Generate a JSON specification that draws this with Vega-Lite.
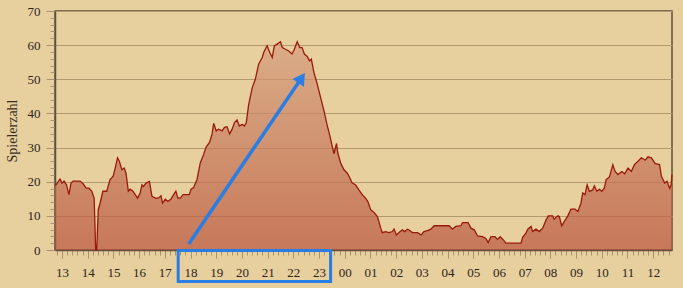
{
  "$schema": "https://vega.github.io/schema/vega-lite/v6.json",
  "width": 617,
  "height": 239,
  "autosize": {"type": "none"},
  "padding": {"left": 55, "top": 11, "right": 11, "bottom": 38},
  "background": "#e7cf9e",
  "config": {
    "view": {"stroke": "#5e5040", "strokeWidth": 1.5},
    "axis": {
      "labelFont": "Liberation Serif",
      "labelFontSize": 13,
      "labelColor": "#2e241a",
      "titleFont": "Liberation Serif",
      "titleFontSize": 14,
      "titleFontWeight": "normal",
      "titleColor": "#3a2e22",
      "domainColor": "#5e5040",
      "domainWidth": 1.5,
      "tickColor": "#a99270",
      "labelOverlap": false,
      "labelFlush": false
    }
  },
  "encoding": {
    "x": {
      "field": "h", "type": "quantitative",
      "scale": {"domain": [12.727, 36.733], "nice": false, "zero": false},
      "axis": {
        "title": null,
        "grid": false,
        "values": [12.8,13,13.2,13.4,13.6,13.8,14,14.2,14.4,14.6,14.8,15,15.2,15.4,15.6,15.8,16,16.2,16.4,16.6,16.8,17,17.2,17.4,17.6,17.8,18,18.2,18.4,18.6,18.8,19,19.2,19.4,19.6,19.8,20,20.2,20.4,20.6,20.8,21,21.2,21.4,21.6,21.8,22,22.2,22.4,22.6,22.8,23,23.2,23.4,23.6,23.8,24,24.2,24.4,24.6,24.8,25,25.2,25.4,25.6,25.8,26,26.2,26.4,26.6,26.8,27,27.2,27.4,27.6,27.8,28,28.2,28.4,28.6,28.8,29,29.2,29.4,29.6,29.8,30,30.2,30.4,30.6,30.8,31,31.2,31.4,31.6,31.8,32,32.2,32.4,32.6,32.8,33,33.2,33.4,33.6,33.8,34,34.2,34.4,34.6,34.8,35,35.2,35.4,35.6,35.8,36,36.2,36.4,36.6],
        "labelExpr": "abs(datum.value - round(datum.value)) < 0.01 ? ((round(datum.value) % 24) < 10 ? '0' : '') + (round(datum.value) % 24) : ''",
        "tickSize": {"condition": {"test": "abs(datum.value - round(datum.value)) < 0.01", "value": 8}, "value": 5},
        "labelPadding": 8
      }
    },
    "y": {
      "field": "spieler", "type": "quantitative",
      "scale": {"domain": [0, 70], "nice": false},
      "axis": {
        "title": "Spielerzahl",
        "values": [0,2,4,6,8,10,12,14,16,18,20,22,24,26,28,30,32,34,36,38,40,42,44,46,48,50,52,54,56,58,60,62,64,66,68,70],
        "labelExpr": "datum.value % 10 === 0 ? datum.label : ''",
        "tickSize": {"condition": {"test": "datum.value % 10 === 0", "value": 9}, "value": 5},
        "labelPadding": 6,
        "titlePadding": 8,
        "grid": true,
        "gridColor": "#b39a6e",
        "gridOpacity": {"condition": {"test": "datum.value % 10 === 0", "value": 1}, "value": 0}
      }
    }
  },
  "layer": [
    {
      "data": {"values": [
        {"h":12.73,"spieler":19},{"h":12.77,"spieler":19.1},{"h":12.92,"spieler":20.8},{"h":13.0,"spieler":19.6},{"h":13.08,"spieler":20.2},{"h":13.18,"spieler":19},{"h":13.27,"spieler":16.2},{"h":13.35,"spieler":19.6},{"h":13.43,"spieler":20.2},{"h":13.7,"spieler":20.2},{"h":13.82,"spieler":19.4},{"h":13.94,"spieler":18.1},{"h":14.05,"spieler":18.1},{"h":14.16,"spieler":17.2},{"h":14.25,"spieler":15.2},{"h":14.31,"spieler":0},{"h":14.35,"spieler":0},{"h":14.41,"spieler":11.8},{"h":14.48,"spieler":13.7},{"h":14.59,"spieler":17.2},{"h":14.74,"spieler":17.2},{"h":14.87,"spieler":20.6},{"h":14.99,"spieler":21.6},{"h":15.07,"spieler":24},{"h":15.16,"spieler":27},{"h":15.23,"spieler":26},{"h":15.33,"spieler":23.5},{"h":15.42,"spieler":24},{"h":15.49,"spieler":22.5},{"h":15.58,"spieler":17.2},{"h":15.65,"spieler":17.8},{"h":15.76,"spieler":17.2},{"h":15.85,"spieler":16.2},{"h":15.94,"spieler":15.2},{"h":16.04,"spieler":16.7},{"h":16.11,"spieler":19.1},{"h":16.17,"spieler":18.6},{"h":16.27,"spieler":19.6},{"h":16.4,"spieler":20.1},{"h":16.5,"spieler":15.7},{"h":16.63,"spieler":15.2},{"h":16.75,"spieler":15.2},{"h":16.85,"spieler":15.9},{"h":16.91,"spieler":13.7},{"h":17.02,"spieler":14.9},{"h":17.12,"spieler":14.2},{"h":17.24,"spieler":14.9},{"h":17.34,"spieler":16.2},{"h":17.43,"spieler":17.2},{"h":17.51,"spieler":15.2},{"h":17.6,"spieler":15.2},{"h":17.71,"spieler":16.2},{"h":17.95,"spieler":16.2},{"h":18.02,"spieler":17.8},{"h":18.12,"spieler":18.3},{"h":18.25,"spieler":20.6},{"h":18.38,"spieler":25.5},{"h":18.51,"spieler":28},{"h":18.61,"spieler":30.2},{"h":18.74,"spieler":31.5},{"h":18.84,"spieler":34},{"h":18.9,"spieler":37.1},{"h":19.0,"spieler":34.9},{"h":19.09,"spieler":35.4},{"h":19.23,"spieler":34.9},{"h":19.32,"spieler":35.9},{"h":19.42,"spieler":36.1},{"h":19.52,"spieler":34},{"h":19.62,"spieler":35.4},{"h":19.71,"spieler":37.3},{"h":19.81,"spieler":38.1},{"h":19.9,"spieler":36.3},{"h":20.01,"spieler":36.8},{"h":20.1,"spieler":36.3},{"h":20.17,"spieler":37.3},{"h":20.26,"spieler":42.5},{"h":20.4,"spieler":47.5},{"h":20.52,"spieler":50},{"h":20.65,"spieler":54.4},{"h":20.79,"spieler":56.4},{"h":20.85,"spieler":57.9},{"h":20.98,"spieler":59.8},{"h":21.08,"spieler":57.9},{"h":21.18,"spieler":56.4},{"h":21.26,"spieler":59.8},{"h":21.37,"spieler":60.3},{"h":21.5,"spieler":61},{"h":21.57,"spieler":59.3},{"h":21.69,"spieler":58.8},{"h":21.82,"spieler":58.3},{"h":21.95,"spieler":57.4},{"h":22.04,"spieler":58.8},{"h":22.15,"spieler":61},{"h":22.25,"spieler":59.3},{"h":22.34,"spieler":59.3},{"h":22.43,"spieler":57.4},{"h":22.54,"spieler":56.7},{"h":22.63,"spieler":55.4},{"h":22.7,"spieler":55.9},{"h":22.8,"spieler":52},{"h":22.93,"spieler":48.6},{"h":23.06,"spieler":44.7},{"h":23.19,"spieler":40.8},{"h":23.32,"spieler":36.4},{"h":23.42,"spieler":33.5},{"h":23.51,"spieler":30.5},{"h":23.58,"spieler":28.2},{"h":23.68,"spieler":31.2},{"h":23.73,"spieler":28.4},{"h":23.84,"spieler":25.5},{"h":23.97,"spieler":23.5},{"h":24.1,"spieler":22.5},{"h":24.2,"spieler":21.1},{"h":24.29,"spieler":19.6},{"h":24.42,"spieler":19.1},{"h":24.55,"spieler":17.6},{"h":24.68,"spieler":16.2},{"h":24.81,"spieler":15.2},{"h":24.9,"spieler":14.2},{"h":25.01,"spieler":11.8},{"h":25.14,"spieler":11},{"h":25.27,"spieler":9.8},{"h":25.33,"spieler":8.3},{"h":25.4,"spieler":6.4},{"h":25.46,"spieler":5.1},{"h":25.59,"spieler":5.4},{"h":25.72,"spieler":5.1},{"h":25.85,"spieler":5.4},{"h":25.92,"spieler":6.1},{"h":26.01,"spieler":4.4},{"h":26.11,"spieler":5.1},{"h":26.24,"spieler":5.9},{"h":26.33,"spieler":5.4},{"h":26.44,"spieler":6.1},{"h":26.53,"spieler":5.7},{"h":26.63,"spieler":5.1},{"h":26.83,"spieler":5.1},{"h":26.98,"spieler":4.4},{"h":27.08,"spieler":5.4},{"h":27.22,"spieler":5.7},{"h":27.35,"spieler":6.1},{"h":27.48,"spieler":7.1},{"h":27.87,"spieler":7.1},{"h":28.06,"spieler":7.1},{"h":28.19,"spieler":6.1},{"h":28.32,"spieler":6.9},{"h":28.52,"spieler":7.1},{"h":28.58,"spieler":8},{"h":28.8,"spieler":8},{"h":28.91,"spieler":6.4},{"h":29.04,"spieler":5.9},{"h":29.17,"spieler":4.1},{"h":29.36,"spieler":3.9},{"h":29.49,"spieler":3.4},{"h":29.58,"spieler":2.2},{"h":29.69,"spieler":3.9},{"h":29.84,"spieler":3.9},{"h":29.95,"spieler":3.1},{"h":30.05,"spieler":3.9},{"h":30.18,"spieler":2.9},{"h":30.27,"spieler":2},{"h":30.86,"spieler":2},{"h":30.92,"spieler":3.7},{"h":31.05,"spieler":4.9},{"h":31.12,"spieler":6.1},{"h":31.25,"spieler":6.9},{"h":31.31,"spieler":5.4},{"h":31.44,"spieler":6.1},{"h":31.57,"spieler":5.4},{"h":31.7,"spieler":6.4},{"h":31.83,"spieler":8.8},{"h":31.92,"spieler":10},{"h":32.09,"spieler":10},{"h":32.15,"spieler":9},{"h":32.29,"spieler":10},{"h":32.35,"spieler":9.8},{"h":32.44,"spieler":7.1},{"h":32.54,"spieler":8.3},{"h":32.68,"spieler":10},{"h":32.8,"spieler":12},{"h":32.96,"spieler":12},{"h":33.07,"spieler":11.3},{"h":33.19,"spieler":13.7},{"h":33.26,"spieler":16.7},{"h":33.35,"spieler":16.2},{"h":33.43,"spieler":19.1},{"h":33.52,"spieler":17.2},{"h":33.65,"spieler":17.6},{"h":33.71,"spieler":18.8},{"h":33.81,"spieler":17.2},{"h":33.91,"spieler":17.8},{"h":34.0,"spieler":17.2},{"h":34.1,"spieler":18.1},{"h":34.17,"spieler":20.6},{"h":34.3,"spieler":21.4},{"h":34.43,"spieler":25},{"h":34.52,"spieler":23},{"h":34.63,"spieler":22.1},{"h":34.78,"spieler":23},{"h":34.89,"spieler":22.3},{"h":35.02,"spieler":24},{"h":35.15,"spieler":23},{"h":35.27,"spieler":25},{"h":35.41,"spieler":26},{"h":35.54,"spieler":27},{"h":35.69,"spieler":26.3},{"h":35.8,"spieler":27.3},{"h":35.93,"spieler":27},{"h":36.08,"spieler":25.3},{"h":36.25,"spieler":25},{"h":36.32,"spieler":21.6},{"h":36.45,"spieler":19.6},{"h":36.54,"spieler":20.1},{"h":36.64,"spieler":18.1},{"h":36.7,"spieler":19.1},{"h":36.73,"spieler":22.1}
      ]},
      "mark": {
        "type": "area",
        "color": {"gradient": "linear", "x1": 0, "y1": 0, "x2": 0, "y2": 1,
          "stops": [{"offset": 0, "color": "#d59e7e"}, {"offset": 1, "color": "#b9533c"}]},
        "line": {"color": "#9a1a0a", "strokeWidth": 1.3}
      }
    },
    {
      "data": {"values": [{"h": 17.52, "h2": 23.45, "spieler": -0.15, "spieler2": -9.2}]},
      "mark": {"type": "rect", "fill": null, "fillOpacity": 0, "stroke": "#2a7de3", "strokeWidth": 3},
      "encoding": {
        "x2": {"field": "h2"},
        "y2": {"field": "spieler2"}
      }
    },
    {
      "data": {"values": [{"h": 17.93, "spieler": 1.76}, {"h": 22.32, "spieler": 50.4}]},
      "mark": {"type": "line", "color": "#2a7de3", "strokeWidth": 3.5, "strokeCap": "butt"}
    },
    {
      "data": {"values": [{"h": 22.32, "spieler": 50.4}]},
      "mark": {"type": "point", "shape": "triangle-up", "filled": true, "color": "#2a7de3", "opacity": 1, "size": 190, "angle": 34}
    }
  ]
}
